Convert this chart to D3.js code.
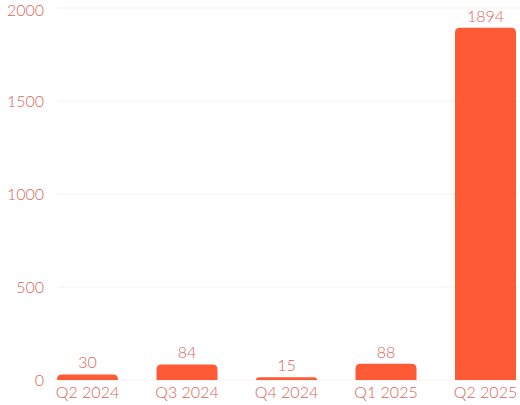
<!DOCTYPE html>
<html>
<head>
<meta charset="utf-8">
<script src="https://cdn.jsdelivr.net/npm/d3@7"></script>
<style>
  body { margin: 0; background: #fff; }
  text { font-family: Lato, sans-serif; font-weight: 300; }
</style>
</head>
<body>
<svg id="chart" width="520" height="405"></svg>
<script>
const quarters = ['Q2 2024', 'Q3 2024', 'Q4 2024', 'Q1 2025', 'Q2 2025'];
const counts = [30, 84, 15, 88, 1894];
const yTicks = [0, 500, 1000, 1500, 2000];

const svg = d3.select('#chart');
const textColor = '#d8665a';
const barColor = '#ff5a36';

const x = d3.scaleBand().domain(quarters).range([57, 516]).paddingInner(0.387).paddingOuter(0);
const y = d3.scaleLinear().domain([0, 2000]).range([380, 8]);

// gridlines
svg.append('g')
  .selectAll('line')
  .data(yTicks)
  .join('line')
  .attr('x1', 57)
  .attr('x2', 520)
  .attr('y1', d => y(d))
  .attr('y2', d => y(d))
  .attr('stroke', '#fbeeee')
  .attr('stroke-width', 1);

// y axis
const yAxis = svg.append('g')
  .attr('transform', 'translate(44,0)')
  .call(d3.axisLeft(y).tickValues(yTicks).tickFormat(d3.format('d')).tickSize(0).tickPadding(0));
yAxis.select('.domain').remove();
yAxis.selectAll('text').attr('fill', textColor).attr('font-size', 16);
// keep the top label inside the window
yAxis.selectAll('.tick').filter(d => d === 2000).select('text').attr('y', 2);

// x axis
const xAxis = svg.append('g')
  .attr('transform', 'translate(0,381)')
  .call(d3.axisBottom(x).tickSize(0).tickPadding(6));
xAxis.select('.domain').remove();
xAxis.selectAll('text').attr('fill', textColor).attr('font-size', 16);

// bars with rounded top corners
const r = 5;
const barPath = function (d, i) {
  const x0 = x(quarters[i]);
  const w = x.bandwidth();
  const top = y(d);
  const bottom = y(0);
  const rr = Math.min(r, (bottom - top));
  return 'M' + x0 + ',' + bottom +
    'V' + (top + rr) +
    'Q' + x0 + ',' + top + ' ' + (x0 + rr) + ',' + top +
    'H' + (x0 + w - rr) +
    'Q' + (x0 + w) + ',' + top + ' ' + (x0 + w) + ',' + (top + rr) +
    'V' + bottom + 'Z';
};

svg.append('g')
  .selectAll('path')
  .data(counts)
  .join('path')
  .attr('d', barPath)
  .attr('fill', barColor);

// value labels
svg.append('g')
  .selectAll('text')
  .data(counts)
  .join('text')
  .attr('x', (d, i) => x(quarters[i]) + x.bandwidth() / 2)
  .attr('y', d => y(d) - 6)
  .attr('text-anchor', 'middle')
  .attr('fill', textColor)
  .attr('font-size', 16)
  .text(d => d);
</script>
</body>
</html>
